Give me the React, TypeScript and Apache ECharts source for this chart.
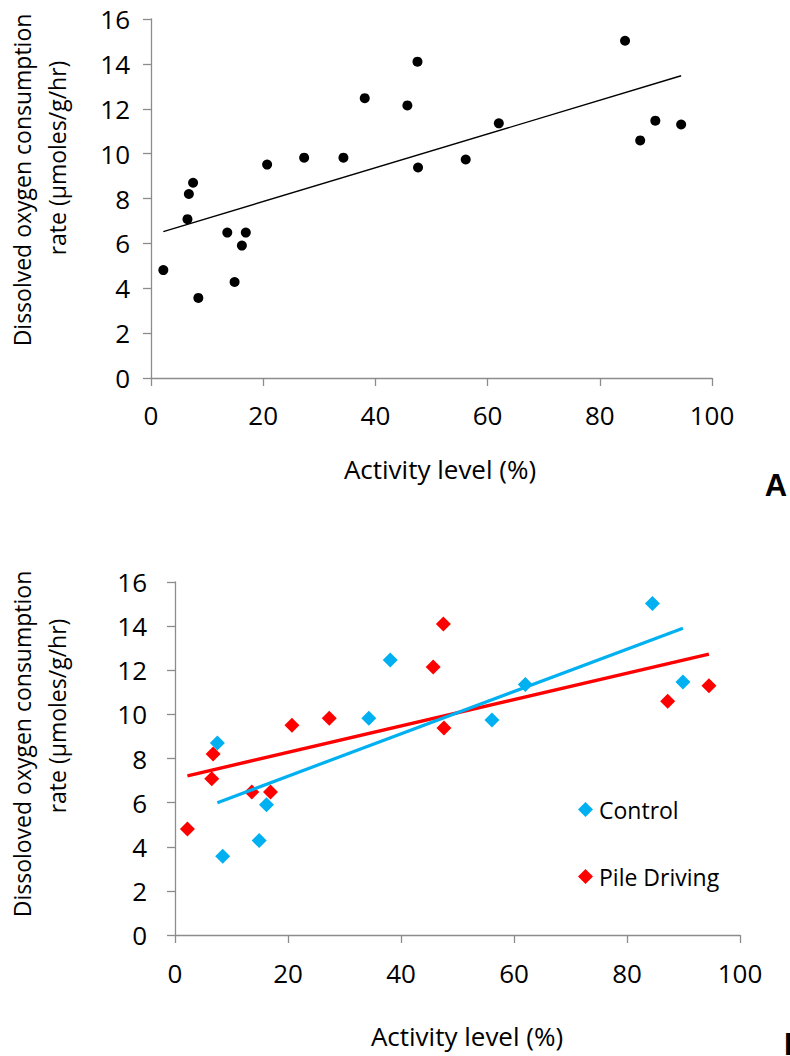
import React, { useEffect, useRef } from "react";
import * as echarts from "echarts";

// Activity level (%) and dissolved oxygen consumption rate (µmoles/g/hr)
const activityControl = [7.5, 8.44, 14.9, 16.2, 34.3, 38.1, 56.1, 62.0, 84.5, 89.9];
const rateControl = [8.7, 3.57, 4.28, 5.9, 9.82, 12.47, 9.74, 11.35, 15.03, 11.47];
const activityPile = [2.2, 6.5, 6.75, 13.6, 16.9, 20.7, 27.3, 45.7, 47.5, 47.6, 87.2, 94.5];
const ratePile = [4.81, 7.08, 8.2, 6.48, 6.48, 9.51, 9.82, 12.15, 14.1, 9.38, 10.59, 11.3];

const xTicks = { min: 0, max: 100, interval: 20 };
const yTicks = { min: 0, max: 16, interval: 2 };

const seriesNames = ["Control", "Pile Driving"];
const yTitleA = ["Dissolved oxygen consumption", "rate (µmoles/g/hr)"];
const yTitleB = ["Dissoloved oxygen consumption", "rate (µmoles/g/hr)"];
const xTitle = "Activity level (%)";

const pairs = (xs: number[], ys: number[]) => xs.map((x, i) => [x, ys[i]]);

// Least-squares trend line spanning the range of the data
function trend(xs: number[], ys: number[]) {
  const n = xs.length;
  const mx = xs.reduce((a, b) => a + b, 0) / n;
  const my = ys.reduce((a, b) => a + b, 0) / n;
  let sxy = 0;
  let sxx = 0;
  xs.forEach((x, i) => {
    sxy += (x - mx) * (ys[i] - my);
    sxx += (x - mx) * (x - mx);
  });
  const b = sxy / sxx;
  const a = my - b * mx;
  const lo = Math.min(...xs);
  const hi = Math.max(...xs);
  return [
    [lo, a + b * lo],
    [hi, a + b * hi],
  ];
}

const FONT = "'Open Sans', sans-serif";
const AXIS_GREY = "#8c8c8c";

function xAxisFor(gridIndex: number, labelMargin: number) {
  return {
    type: "value",
    gridIndex,
    ...xTicks,
    axisLine: { show: true, onZero: false, lineStyle: { color: AXIS_GREY, width: 1.3 } },
    axisTick: { show: true, inside: false, length: 8, lineStyle: { color: AXIS_GREY, width: 1.3 } },
    splitLine: { show: false },
    axisLabel: { margin: labelMargin, fontSize: 26, color: "#000", fontFamily: FONT },
  };
}

function yAxisFor(gridIndex: number, labelMargin: number) {
  return {
    type: "value",
    gridIndex,
    ...yTicks,
    axisLine: { show: true, onZero: false, lineStyle: { color: AXIS_GREY, width: 1.3 } },
    axisTick: { show: true, inside: false, length: 8, lineStyle: { color: AXIS_GREY, width: 1.3 } },
    splitLine: { show: false },
    axisLabel: { margin: labelMargin, fontSize: 26, color: "#000", fontFamily: FONT },
  };
}

function rotatedTitle(lines: string[], x1: number, y1: number, x2: number, y2: number) {
  const common = {
    type: "text",
    rotation: Math.PI / 2,
    style: {
      fontSize: 23,
      fontFamily: FONT,
      fill: "#000",
      align: "center",
      verticalAlign: "middle",
    },
  };
  return [
    { ...common, x: x1, y: y1, style: { ...common.style, text: lines[0] } },
    { ...common, x: x2, y: y2, style: { ...common.style, text: lines[1] } },
  ];
}

export default function App() {
  const ref = useRef<HTMLDivElement>(null);

  useEffect(() => {
    if (!ref.current) return;
    const chart = echarts.init(ref.current, null, { renderer: "svg" });

    const allX = [...activityControl, ...activityPile];
    const allY = [...rateControl, ...ratePile];

    chart.setOption({
      animation: false,
      backgroundColor: "#ffffff",
      grid: [
        { left: 151, top: 19, width: 561, height: 359 },
        { left: 175, top: 582, width: 565, height: 353 },
      ],
      xAxis: [xAxisFor(0, 24), xAxisFor(1, 25)],
      yAxis: [yAxisFor(0, 21), yAxisFor(1, 28)],
      legend: {
        data: seriesNames,
        orient: "vertical",
        left: 578,
        top: 798,
        padding: 0,
        itemGap: 44,
        itemWidth: 15,
        itemHeight: 15,
        icon: "diamond",
        textStyle: { fontSize: 23, fontFamily: FONT, color: "#000", padding: [0, 0, 0, 1] },
      },
      series: [
        {
          type: "scatter",
          name: "All",
          xAxisIndex: 0,
          yAxisIndex: 0,
          data: pairs(allX, allY),
          symbol: "circle",
          symbolSize: 10,
          itemStyle: { color: "#000", opacity: 1 },
          z: 2,
        },
        {
          type: "line",
          name: "Trend",
          xAxisIndex: 0,
          yAxisIndex: 0,
          data: trend(allX, allY),
          showSymbol: false,
          lineStyle: { color: "#000", width: 1.4 },
          z: 3,
        },
        {
          type: "scatter",
          name: seriesNames[1],
          xAxisIndex: 1,
          yAxisIndex: 1,
          data: pairs(activityPile, ratePile),
          symbol: "diamond",
          symbolSize: 15,
          itemStyle: { color: "#ff0000", opacity: 1 },
          z: 2,
        },
        {
          type: "scatter",
          name: seriesNames[0],
          xAxisIndex: 1,
          yAxisIndex: 1,
          data: pairs(activityControl, rateControl),
          symbol: "diamond",
          symbolSize: 15,
          itemStyle: { color: "#00b0f0", opacity: 1 },
          z: 2,
        },
        {
          type: "line",
          name: "Pile Driving trend",
          xAxisIndex: 1,
          yAxisIndex: 1,
          data: trend(activityPile, ratePile),
          showSymbol: false,
          lineStyle: { color: "#ff0000", width: 3.4 },
          z: 3,
        },
        {
          type: "line",
          name: "Control trend",
          xAxisIndex: 1,
          yAxisIndex: 1,
          data: trend(activityControl, rateControl),
          showSymbol: false,
          lineStyle: { color: "#00b0f0", width: 3.2 },
          z: 3,
        },
      ],
      graphic: [
        ...rotatedTitle(yTitleA, 22, 180, 57, 158),
        ...rotatedTitle(yTitleB, 22, 744, 57, 716),
        {
          type: "text",
          x: 440,
          y: 469,
          style: { text: xTitle, fontSize: 26, fontFamily: FONT, fill: "#000", align: "center", verticalAlign: "middle" },
        },
        {
          type: "text",
          x: 467,
          y: 1036,
          style: { text: xTitle, fontSize: 26, fontFamily: FONT, fill: "#000", align: "center", verticalAlign: "middle" },
        },
        {
          type: "text",
          x: 776,
          y: 485,
          style: { text: "A", fontSize: 31, fontWeight: "bold", fontFamily: "'Liberation Sans', Arial, sans-serif", fill: "#000", align: "center", verticalAlign: "middle" },
        },
        {
          type: "text",
          x: 784,
          y: 1044,
          style: { text: "B", fontSize: 31, fontWeight: "bold", fontFamily: "'Liberation Sans', Arial, sans-serif", fill: "#000", align: "left", verticalAlign: "middle" },
        },
      ],
    });

    return () => chart.dispose();
  }, []);

  return (
    <div
      ref={ref}
      style={{ position: "absolute", left: 0, top: 0, width: 790, height: 1056 }}
    />
  );
}
